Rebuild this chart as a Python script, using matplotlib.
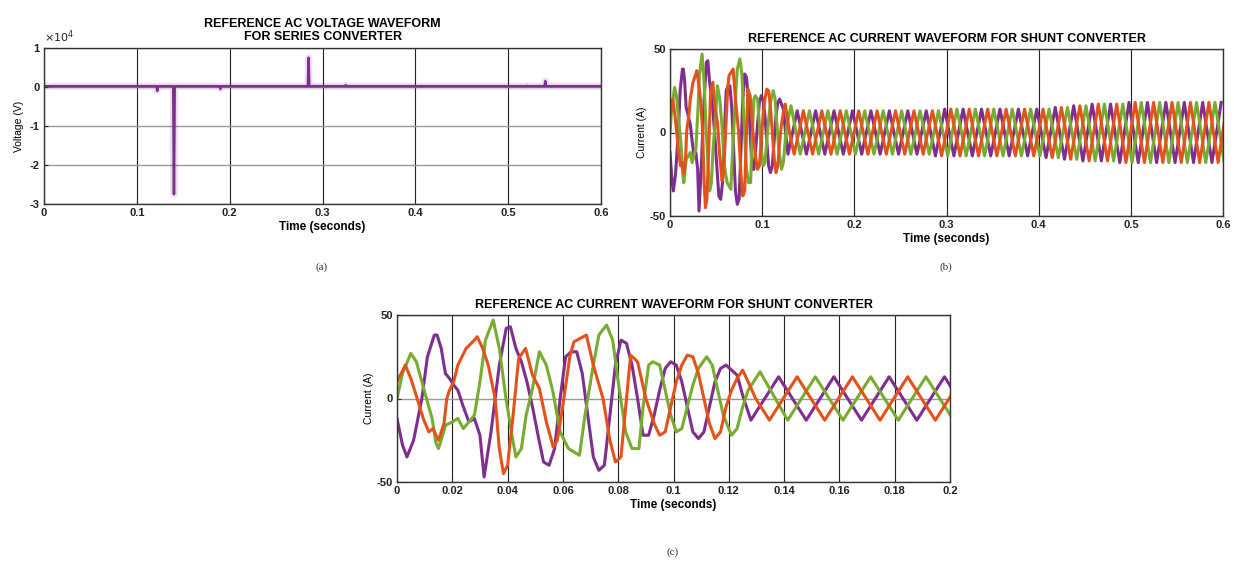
import numpy as np
import matplotlib
matplotlib.use("Agg")
import matplotlib.pyplot as plt
from matplotlib.ticker import FuncFormatter, FormatStrFormatter

plt.rcParams["font.family"] = ["Liberation Sans", "DejaVu Sans"]
plt.rcParams["axes.unicode_minus"] = False

PURPLE = "#7E2F8E"
ORANGE = "#E4521B"
GREEN = "#77AC30"

# (a) series converter voltage: flat trace with a few switching spikes
volt_base = 200.0
spike_t = [0.122, 0.140, 0.190, 0.285, 0.325, 0.520, 0.540]
spike_v = [-1000, -27500, -500, 7500, 500, 300, 1500]

# (b)/(c) shunt converter currents, transient part
purple_t = [0.000, 0.002, 0.0036, 0.006, 0.009, 0.011, 0.0135, 0.0145, 0.016, 0.0175,
            0.019, 0.0205, 0.022, 0.024, 0.026, 0.028, 0.030, 0.0315, 0.034, 0.037,
            0.0395, 0.041, 0.043, 0.045, 0.047, 0.049, 0.051, 0.053, 0.055, 0.057,
            0.059, 0.061, 0.063, 0.065, 0.067, 0.069, 0.071, 0.073, 0.075, 0.077,
            0.079, 0.081, 0.083, 0.085, 0.087, 0.089, 0.091, 0.093, 0.095, 0.097,
            0.099, 0.101, 0.103, 0.105, 0.107, 0.109, 0.111, 0.113, 0.115, 0.117,
            0.119, 0.121, 0.123, 0.125]
purple_v = [-12, -28, -35, -25, 0, 25, 38, 38, 30, 15,
            12, 8, 5, -5, -14, -12, -22, -47, -20, 20,
            42, 43, 30, 22, 10, -5, -22, -38, -40, -30,
            0, 25, 28, 28, 15, -10, -35, -43, -40, -10,
            20, 35, 33, 20, 0, -22, -22, -10, 5, 18,
            22, 20, 10, -5, -20, -24, -20, -5, 10, 18,
            20, 17, 14, 2]

orange_t = [0.000, 0.003, 0.005, 0.0073, 0.0095, 0.0115, 0.013, 0.015, 0.017, 0.018,
            0.019, 0.0205, 0.022, 0.025, 0.028, 0.029, 0.031, 0.033, 0.0355, 0.037,
            0.0385, 0.040, 0.042, 0.044, 0.0465, 0.049, 0.0515, 0.054, 0.0565, 0.058,
            0.060, 0.0625, 0.064, 0.0685, 0.071, 0.0745, 0.077, 0.079, 0.081, 0.083,
            0.0845, 0.087, 0.090, 0.093, 0.095, 0.097, 0.099, 0.101, 0.103, 0.105,
            0.107, 0.109, 0.111, 0.113, 0.115, 0.117, 0.119, 0.121, 0.123, 0.125,
            0.127, 0.1297]
orange_v = [10, 20, 12, 0, -12, -20, -18, -25, -15, 0,
            5, 10, 20, 30, 35, 37, 30, 20, 0, -30,
            -45, -40, -10, 24, 30, 14, 6, -14, -29, -25,
            -4, 25, 34, 38, 20, 0, -25, -38, -35, 0,
            26, 22, 0, -15, -22, -20, -5, 10, 20, 26,
            25, 15, 0, -15, -24, -20, -5, 5, 12, 17,
            10, 0]

green_t = [0.000, 0.002, 0.005, 0.007, 0.009, 0.011, 0.0127, 0.014, 0.015, 0.0165,
           0.0176, 0.020, 0.022, 0.024, 0.026, 0.028, 0.030, 0.032, 0.0348, 0.037,
           0.0394, 0.042, 0.043, 0.045, 0.0467, 0.049, 0.0515, 0.054, 0.0564, 0.059,
           0.062, 0.066, 0.068, 0.071, 0.073, 0.0758, 0.078, 0.080, 0.0827, 0.085,
           0.0875, 0.089, 0.091, 0.0925, 0.095, 0.097, 0.099, 0.101, 0.103, 0.105,
           0.107, 0.109, 0.112, 0.114, 0.116, 0.118, 0.121, 0.123, 0.125, 0.127,
           0.1313]
green_v = [0, 15, 27, 22, 10, -2, -12, -26, -30, -22,
           -16, -14, -12, -18, -14, -10, 10, 35, 47, 30,
           0, -26, -35, -30, -10, 6, 28, 20, 4, -20,
           -30, -34, -10, 20, 38, 44, 35, 10, -20, -30,
           -30, -5, 20, 22, 20, 5, -10, -20, -18, -5,
           8, 18, 25, 20, 5, -10, -22, -18, -5, 5,
           16]

# steady state after ~0.13 s: 20 ms cycles, first trough of each phase,
# peak amplitude of every cycle
period = 0.02
ss_first_trough = {"purple": 0.128, "orange": 0.1347, "green": 0.1413}
ss_amp = [13, 13, 13, 13, 13, 13, 13, 13, 14, 14, 14, 14,
          14, 14, 15, 16, 17, 17, 18, 18, 18, 18, 18, 18]


def phase_series(t_knots, v_knots, t0):
    t = list(t_knots)
    v = list(v_knots)
    for k, a in enumerate(ss_amp):
        t += [t0 + k * period, t0 + k * period + period / 2]
        v += [-a, a]
    return np.array(t), np.array(v)


phases = [
    (phase_series(purple_t, purple_v, ss_first_trough["purple"]), PURPLE),
    (phase_series(green_t, green_v, ss_first_trough["green"]), GREEN),
    (phase_series(orange_t, orange_v, ss_first_trough["orange"]), ORANGE),
]

# voltage trace
vt = [0.0]
vv = [volt_base]
for st, sv in zip(spike_t, spike_v):
    vt += [st - 0.0008, st, st + 0.0008]
    vv += [volt_base, sv, volt_base]
vt.append(0.6)
vv.append(volt_base)

W, H = 1234, 565
fig = plt.figure(figsize=(W / 100, H / 100), dpi=100)


def add_ax(left, top, right, bottom):
    return fig.add_axes([left / W, 1 - bottom / H, (right - left) / W, (bottom - top) / H])


def style(ax):
    ax.tick_params(direction="in", length=3, labelsize=8, pad=3, colors="#222")
    for lab in ax.get_xticklabels() + ax.get_yticklabels():
        lab.set_fontweight("bold")
    for s in ax.spines.values():
        s.set_color("#333")
        s.set_linewidth(1.0)
    ax.grid(True, axis="x", color="#222", linewidth=0.8)
    ax.grid(True, axis="y", color="#999", linewidth=1.0)
    ax.set_axisbelow(True)
    ax.set_xlabel("Time (seconds)", fontsize=8.5, fontweight="bold", labelpad=2)


# (a)
ax1 = add_ax(44, 48, 601, 204)
ax1.plot(vt, vv, color=PURPLE, linewidth=5, alpha=0.15)
ax1.plot(vt, vv, color=PURPLE, linewidth=1.8)
ax1.set_xlim(0, 0.6)
ax1.set_ylim(-30000, 10000)
ax1.set_xticks(np.arange(0, 0.61, 0.1))
ax1.set_yticks([-30000, -20000, -10000, 0, 10000])
ax1.yaxis.set_major_formatter(FuncFormatter(lambda v, _: "%g" % (v / 1e4)))
ax1.xaxis.set_major_formatter(FormatStrFormatter("%g"))
ax1.text(0.0, 1.02, r"$\times10^{4}$", transform=ax1.transAxes, fontsize=8,
         ha="left", va="bottom", color="#222")
ax1.set_ylabel("Voltage (V)", fontsize=7.5, labelpad=4)
ax1.set_title("REFERENCE AC VOLTAGE WAVEFORM\nFOR SERIES CONVERTER",
              fontsize=9, fontweight="bold", pad=6, linespacing=1.05)
style(ax1)

# (b)
ax2 = add_ax(670, 49, 1223, 216)
for (t, v), c in phases:
    ax2.plot(t, v, color=c, linewidth=2.2)
ax2.set_xlim(0, 0.6)
ax2.set_ylim(-50, 50)
ax2.set_xticks(np.arange(0, 0.61, 0.1))
ax2.set_yticks([-50, 0, 50])
ax2.xaxis.set_major_formatter(FormatStrFormatter("%g"))
ax2.set_ylabel("Current (A)", fontsize=7.5, labelpad=2)
ax2.set_title("REFERENCE AC CURRENT WAVEFORM FOR SHUNT CONVERTER",
              fontsize=9, fontweight="bold", pad=5)
style(ax2)

# (c)
ax3 = add_ax(397, 315, 950, 482)
for (t, v), c in phases:
    m = t <= 0.21
    ax3.plot(t[m], v[m], color=c, linewidth=2.2)
ax3.set_xlim(0, 0.2)
ax3.set_ylim(-50, 50)
ax3.set_xticks(np.arange(0, 0.201, 0.02))
ax3.set_yticks([-50, 0, 50])
ax3.xaxis.set_major_formatter(FormatStrFormatter("%g"))
ax3.set_ylabel("Current (A)", fontsize=7.5, labelpad=2)
ax3.set_title("REFERENCE AC CURRENT WAVEFORM FOR SHUNT CONVERTER",
              fontsize=9, fontweight="bold", pad=5)
style(ax3)

for x, y, s in [(322, 267, "(a)"), (946, 267, "(b)"), (673, 552, "(c)")]:
    fig.text(x / W, 1 - y / H, s, ha="center", va="center", fontsize=8,
             family="Liberation Serif", color="#333")

fig.savefig("out.png", dpi=100)
